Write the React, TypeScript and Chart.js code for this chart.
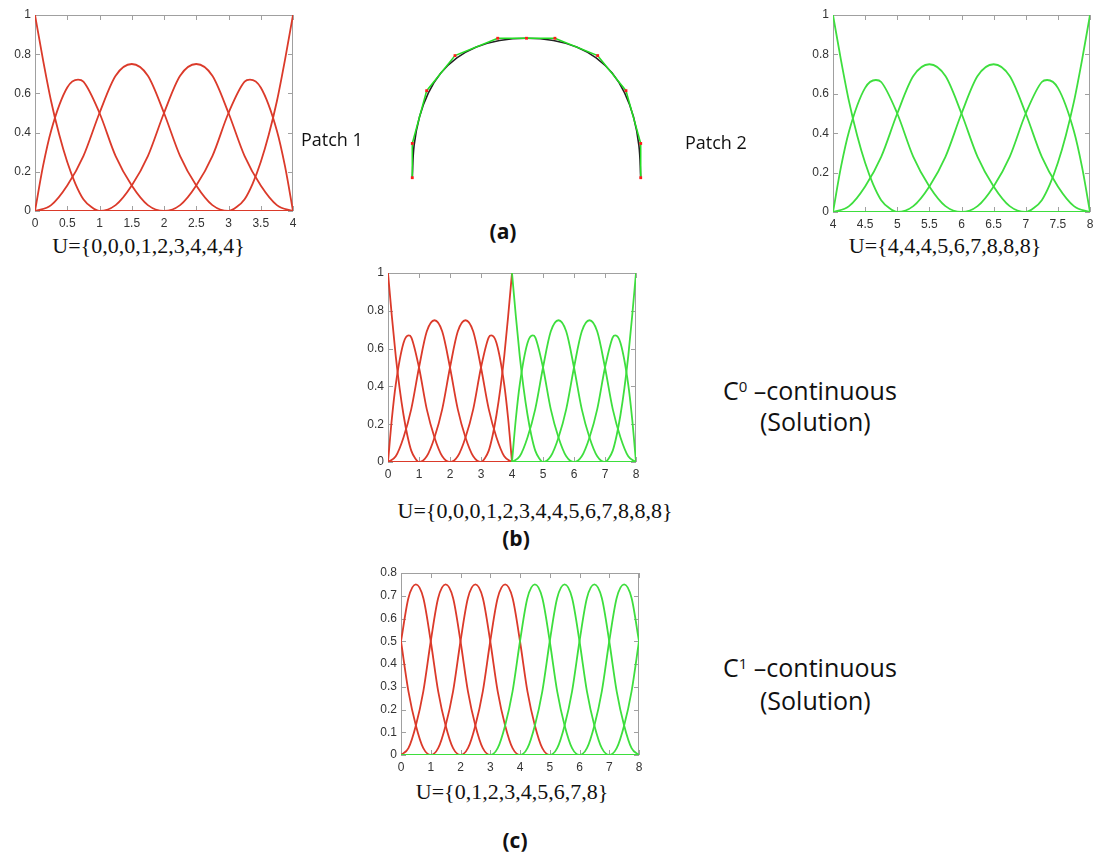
import React, { useEffect, useRef } from 'react';
import { Chart, registerables } from 'chart.js';
Chart.register(...registerables);

const RED = '#db3a2a';
const GREEN = '#3ede3e';

// ---- Patch 1 basis functions, U={0,0,0,1,2,3,4,4,4} ----
const P1_N0_X = [0, 0.125, 0.25, 0.375, 0.5, 0.625, 0.75, 0.875, 1, 4];
const P1_N1_X = [0, 0.125, 0.25, 0.5, 0.667, 0.75, 1, 1.25, 1.5, 1.75, 2, 4];
const P1_N2_X = [0, 0.25, 0.5, 0.75, 1, 1.25, 1.5, 1.75, 2, 2.25, 2.5, 2.75, 3, 4];
const P1_N3_X = [0, 1, 1.25, 1.5, 1.75, 2, 2.25, 2.5, 2.75, 3, 3.25, 3.5, 3.75, 4];
const P1_N4_X = [0, 2, 2.25, 2.5, 2.75, 3, 3.25, 3.333, 3.5, 3.75, 3.875, 4];
const P1_N5_X = [0, 3, 3.125, 3.25, 3.375, 3.5, 3.625, 3.75, 3.875, 4];

// ---- Patch 2 basis functions, U={4,4,4,5,6,7,8,8,8} ----
const P2_N0_X = [4, 4.125, 4.25, 4.375, 4.5, 4.625, 4.75, 4.875, 5, 8];
const P2_N1_X = [4, 4.125, 4.25, 4.5, 4.667, 4.75, 5, 5.25, 5.5, 5.75, 6, 8];
const P2_N2_X = [4, 4.25, 4.5, 4.75, 5, 5.25, 5.5, 5.75, 6, 6.25, 6.5, 6.75, 7, 8];
const P2_N3_X = [4, 5, 5.25, 5.5, 5.75, 6, 6.25, 6.5, 6.75, 7, 7.25, 7.5, 7.75, 8];
const P2_N4_X = [4, 6, 6.25, 6.5, 6.75, 7, 7.25, 7.333, 7.5, 7.75, 7.875, 8];
const P2_N5_X = [4, 7, 7.125, 7.25, 7.375, 7.5, 7.625, 7.75, 7.875, 8];

// values (same shapes for both patches)
const N0_Y = [1, 0.77, 0.56, 0.39, 0.25, 0.14, 0.06, 0.02, 0, 0];
const N1_Y = [0, 0.23, 0.41, 0.63, 0.67, 0.66, 0.5, 0.28, 0.13, 0.03, 0, 0];
const N2_Y = [0, 0.03, 0.13, 0.28, 0.5, 0.69, 0.75, 0.69, 0.5, 0.28, 0.13, 0.03, 0, 0];
const N3_Y = [0, 0, 0.03, 0.13, 0.28, 0.5, 0.69, 0.75, 0.69, 0.5, 0.28, 0.13, 0.03, 0];
const N4_Y = [0, 0, 0.03, 0.13, 0.28, 0.5, 0.66, 0.67, 0.63, 0.41, 0.23, 0];
const N5_Y = [0, 0, 0.02, 0.06, 0.14, 0.25, 0.39, 0.56, 0.77, 1];

// ---- (c) C1-continuous, U={0,1,2,3,4,5,6,7,8} ----
const C_R0_X = [0, 0.25, 0.5, 0.75, 1, 8];
const C_R0_Y = [0.5, 0.28, 0.13, 0.03, 0, 0];
const C_R1_X = [0, 0.25, 0.5, 0.75, 1, 1.25, 1.5, 1.75, 2, 8];
const C_R1_Y = [0.5, 0.69, 0.75, 0.69, 0.5, 0.28, 0.13, 0.03, 0, 0];
const C_R2_X = [0, 0.25, 0.5, 0.75, 1, 1.25, 1.5, 1.75, 2, 2.25, 2.5, 2.75, 3, 8];
const C_R2_Y = [0, 0.03, 0.13, 0.28, 0.5, 0.69, 0.75, 0.69, 0.5, 0.28, 0.13, 0.03, 0, 0];
const C_R3_X = [0, 1, 1.25, 1.5, 1.75, 2, 2.25, 2.5, 2.75, 3, 3.25, 3.5, 3.75, 4, 8];
const C_R4_X = [0, 2, 2.25, 2.5, 2.75, 3, 3.25, 3.5, 3.75, 4, 4.25, 4.5, 4.75, 5, 8];
const C_G1_X = [0, 3, 3.25, 3.5, 3.75, 4, 4.25, 4.5, 4.75, 5, 5.25, 5.5, 5.75, 6, 8];
const C_G2_X = [0, 4, 4.25, 4.5, 4.75, 5, 5.25, 5.5, 5.75, 6, 6.25, 6.5, 6.75, 7, 8];
const C_MID_Y = [0, 0, 0.03, 0.13, 0.28, 0.5, 0.69, 0.75, 0.69, 0.5, 0.28, 0.13, 0.03, 0, 0];
const C_G3_X = [0, 5, 5.25, 5.5, 5.75, 6, 6.25, 6.5, 6.75, 7, 7.25, 7.5, 7.75, 8];
const C_G3_Y = [0, 0, 0.03, 0.13, 0.28, 0.5, 0.69, 0.75, 0.69, 0.5, 0.28, 0.13, 0.03, 0];
const C_G4_X = [0, 6, 6.25, 6.5, 6.75, 7, 7.25, 7.5, 7.75, 8];
const C_G4_Y = [0, 0, 0.03, 0.13, 0.28, 0.5, 0.69, 0.75, 0.69, 0.5];
const C_G5_X = [0, 7, 7.25, 7.5, 7.75, 8];
const C_G5_Y = [0, 0, 0.03, 0.13, 0.28, 0.5];

// ---- (a) curve: control polygon and B-spline curve ----
const ARC_CTRL_X = [-1, -1, -0.874, -0.626, -0.252, 0, 0.249, 0.623, 0.871, 1, 1];
const ARC_CTRL_Y = [0, 0.3, 0.762, 1.069, 1.221, 1.221, 1.221, 1.069, 0.762, 0.3, 0];
const ARC_CURVE_X = [-1, -0.984, -0.937, -0.859, -0.75, -0.61, -0.439, -0.236, 0, 0.236, 0.439, 0.61, 0.75, 0.859, 0.937, 0.984, 1];
const ARC_CURVE_Y = [0, 0.283, 0.531, 0.743, 0.916, 1.049, 1.145, 1.202, 1.221, 1.202, 1.145, 1.049, 0.916, 0.743, 0.531, 0.283, 0];

type Curve = { x: number[]; y: number[]; color: string };

const pts = (xs: number[], ys: number[]) => xs.map((x, i) => ({ x, y: ys[i] }));

const PATCH1: Curve[] = [
  { x: P1_N0_X, y: N0_Y, color: RED },
  { x: P1_N1_X, y: N1_Y, color: RED },
  { x: P1_N2_X, y: N2_Y, color: RED },
  { x: P1_N3_X, y: N3_Y, color: RED },
  { x: P1_N4_X, y: N4_Y, color: RED },
  { x: P1_N5_X, y: N5_Y, color: RED },
];
const PATCH2: Curve[] = [
  { x: P2_N0_X, y: N0_Y, color: GREEN },
  { x: P2_N1_X, y: N1_Y, color: GREEN },
  { x: P2_N2_X, y: N2_Y, color: GREEN },
  { x: P2_N3_X, y: N3_Y, color: GREEN },
  { x: P2_N4_X, y: N4_Y, color: GREEN },
  { x: P2_N5_X, y: N5_Y, color: GREEN },
];
const CURVES_C: Curve[] = [
  { x: C_G1_X, y: C_MID_Y, color: GREEN },
  { x: C_G2_X, y: C_MID_Y, color: GREEN },
  { x: C_G3_X, y: C_G3_Y, color: GREEN },
  { x: C_G4_X, y: C_G4_Y, color: GREEN },
  { x: C_G5_X, y: C_G5_Y, color: GREEN },
  { x: C_R0_X, y: C_R0_Y, color: RED },
  { x: C_R1_X, y: C_R1_Y, color: RED },
  { x: C_R2_X, y: C_R2_Y, color: RED },
  { x: C_R3_X, y: C_MID_Y, color: RED },
  { x: C_R4_X, y: C_MID_Y, color: RED },
];

const framePlugin = {
  id: 'frame',
  beforeDatasetsDraw(chart: any) {
    const { ctx, chartArea: a, scales } = chart;
    ctx.save();
    ctx.strokeStyle = '#a0a0a0';
    ctx.lineWidth = 1;
    ctx.strokeRect(a.left + 0.5, a.top + 0.5, a.right - a.left - 1, a.bottom - a.top - 1);
    const L = 5;
    ctx.beginPath();
    scales.x.ticks.forEach((t: any) => {
      const p = Math.round(scales.x.getPixelForValue(t.value)) + 0.5;
      ctx.moveTo(p, a.bottom);
      ctx.lineTo(p, a.bottom - L);
      ctx.moveTo(p, a.top);
      ctx.lineTo(p, a.top + L);
    });
    scales.y.ticks.forEach((t: any) => {
      const p = Math.round(scales.y.getPixelForValue(t.value)) + 0.5;
      ctx.moveTo(a.left, p);
      ctx.lineTo(a.left + L, p);
      ctx.moveTo(a.right, p);
      ctx.lineTo(a.right - L, p);
    });
    ctx.stroke();
    ctx.restore();
  },
};

const tickFont = { family: 'Liberation Sans, Arial, sans-serif', size: 12 };
const fmt = (v: any) => String(Number(Number(v).toFixed(3)));

function BasisPlot(props: {
  left: number; top: number; width: number; height: number; padTop: number; padRight: number;
  xMin: number; xMax: number; xStep: number; yMax: number; yStep: number; curves: Curve[];
}) {
  const ref = useRef<HTMLCanvasElement>(null);
  useEffect(() => {
    const p = props;
    const chart = new Chart(ref.current as HTMLCanvasElement, {
      type: 'line',
      data: {
        datasets: p.curves.map((c) => ({
          data: pts(c.x, c.y),
          borderColor: c.color,
          borderWidth: 1.8,
          pointRadius: 0,
          cubicInterpolationMode: 'monotone',
          fill: false,
        })),
      },
      options: {
        animation: false,
        responsive: false,
        maintainAspectRatio: false,
        devicePixelRatio: 1,
        events: [],
        layout: { autoPadding: false, padding: { top: p.padTop, right: p.padRight, left: 0, bottom: 0 } },
        plugins: { legend: { display: false }, tooltip: { enabled: false } },
        scales: {
          x: {
            type: 'linear', min: p.xMin, max: p.xMax,
            ticks: { stepSize: p.xStep, padding: 5, color: '#333', font: tickFont, maxRotation: 0, autoSkip: false, callback: fmt },
            grid: { display: false, drawTicks: false },
            border: { display: false },
            afterFit: (s: any) => { s.height = 20; },
          },
          y: {
            type: 'linear', min: 0, max: p.yMax,
            ticks: { stepSize: p.yStep, padding: 4, color: '#333', font: tickFont, autoSkip: false, callback: fmt },
            grid: { display: false, drawTicks: false },
            border: { display: false },
            afterFit: (s: any) => { s.width = 35; },
          },
        },
      } as any,
      plugins: [framePlugin],
    });
    return () => chart.destroy();
  }, []);
  return (
    <canvas
      ref={ref}
      width={props.width}
      height={props.height}
      style={{ position: 'absolute', left: props.left, top: props.top, width: props.width, height: props.height }}
    />
  );
}

function ArcPlot() {
  const ref = useRef<HTMLCanvasElement>(null);
  useEffect(() => {
    const chart = new Chart(ref.current as HTMLCanvasElement, {
      type: 'scatter',
      data: {
        datasets: [
          {
            data: pts(ARC_CTRL_X, ARC_CTRL_Y),
            showLine: false,
            pointStyle: 'rect',
            pointRadius: 2,
            pointBackgroundColor: '#ff1a1a',
            pointBorderColor: '#ff1a1a',
            pointBorderWidth: 0,
          },
          {
            data: pts(ARC_CTRL_X, ARC_CTRL_Y),
            showLine: true,
            borderColor: '#22dd22',
            borderWidth: 1.5,
            pointRadius: 0,
            tension: 0,
          },
          {
            data: pts(ARC_CURVE_X, ARC_CURVE_Y),
            showLine: true,
            borderColor: '#222',
            borderWidth: 1.6,
            pointRadius: 0,
            tension: 0.4,
          },
        ],
      },
      options: {
        animation: false,
        responsive: false,
        maintainAspectRatio: false,
        devicePixelRatio: 1,
        events: [],
        layout: { autoPadding: false, padding: 0 },
        plugins: { legend: { display: false }, tooltip: { enabled: false } },
        scales: {
          x: { type: 'linear', min: -1.055, max: 1.055, display: false },
          y: { type: 'linear', min: -0.055, max: 1.302, display: false },
        },
      } as any,
    });
    return () => chart.destroy();
  }, []);
  return (
    <canvas ref={ref} width={241} height={155} style={{ position: 'absolute', left: 406, top: 29, width: 241, height: 155 }} />
  );
}

const serif = { fontFamily: '"Liberation Serif", "Times New Roman", serif', fontSize: 22, color: '#111' };
const sans = { fontFamily: '"Open Sans", "Noto Sans", sans-serif', color: '#111' };

function Centered({ cx, cy, style, children }: any) {
  return (
    <div style={{ position: 'absolute', left: cx, top: cy, transform: 'translate(-50%,-50%)', whiteSpace: 'nowrap', lineHeight: 1.2, ...style }}>
      {children}
    </div>
  );
}

function LeftText({ x, cy, style, children }: any) {
  return (
    <div style={{ position: 'absolute', left: x, top: cy, transform: 'translateY(-50%)', whiteSpace: 'nowrap', lineHeight: 1.2, ...style }}>
      {children}
    </div>
  );
}

export default function App() {
  return (
    <div style={{ position: 'absolute', left: 0, top: 0, width: 1095, height: 867, background: '#fff', overflow: 'hidden' }}>
      <BasisPlot left={0} top={0} width={303} height={231} padTop={15} padRight={10}
        xMin={0} xMax={4} xStep={0.5} yMax={1} yStep={0.2} curves={PATCH1} />
      <BasisPlot left={798} top={0} width={302} height={232} padTop={15} padRight={10}
        xMin={4} xMax={8} xStep={0.5} yMax={1} yStep={0.2} curves={PATCH2} />
      <BasisPlot left={353} top={258} width={293} height={224} padTop={15} padRight={10}
        xMin={0} xMax={8} xStep={1} yMax={1} yStep={0.2} curves={[...PATCH2, ...PATCH1]} />
      <BasisPlot left={366} top={558} width={283} height={217} padTop={15} padRight={10}
        xMin={0} xMax={8} xStep={1} yMax={0.8} yStep={0.1} curves={CURVES_C} />
      <ArcPlot />

      <Centered cx={148.5} cy={246} style={serif}>U={'{'}0,0,0,1,2,3,4,4,4{'}'}</Centered>
      <Centered cx={945} cy={246} style={serif}>U={'{'}4,4,4,5,6,7,8,8,8{'}'}</Centered>
      <Centered cx={535} cy={511} style={serif}>U={'{'}0,0,0,1,2,3,4,4,5,6,7,8,8,8{'}'}</Centered>
      <Centered cx={512} cy={792} style={serif}>U={'{'}0,1,2,3,4,5,6,7,8{'}'}</Centered>

      <Centered cx={503} cy={232} style={{ ...sans, fontSize: 21, fontWeight: 700 }}>(a)</Centered>
      <Centered cx={516} cy={539} style={{ ...sans, fontSize: 21, fontWeight: 700 }}>(b)</Centered>
      <Centered cx={515} cy={841} style={{ ...sans, fontSize: 21, fontWeight: 700 }}>(c)</Centered>

      <LeftText x={301} cy={140} style={{ ...sans, fontSize: 18 }}>Patch 1</LeftText>
      <LeftText x={685} cy={143} style={{ ...sans, fontSize: 18 }}>Patch 2</LeftText>

      <LeftText x={723} cy={390} style={{ ...sans, fontSize: 25 }}>
        C<sup style={{ fontSize: '0.6em', verticalAlign: '0.55em' }}>0</sup> –continuous
      </LeftText>
      <LeftText x={760} cy={421} style={{ ...sans, fontSize: 25 }}>(Solution)</LeftText>
      <LeftText x={723} cy={667} style={{ ...sans, fontSize: 25 }}>
        C<sup style={{ fontSize: '0.6em', verticalAlign: '0.55em' }}>1</sup> –continuous
      </LeftText>
      <LeftText x={760} cy={700} style={{ ...sans, fontSize: 25 }}>(Solution)</LeftText>
    </div>
  );
}
